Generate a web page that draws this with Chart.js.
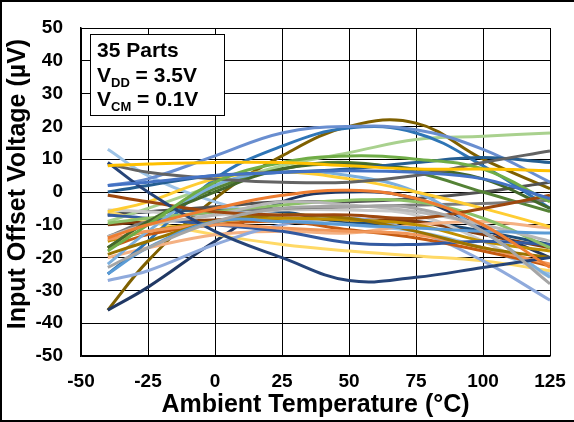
<!DOCTYPE html>
<html>
<head>
<meta charset="utf-8">
<script src="https://cdn.jsdelivr.net/npm/chart.js@4.4.1/dist/chart.umd.min.js"></script>
<style>
  html, body { margin: 0; padding: 0; background: #fff; }
  #wrap { position: relative; width: 574px; height: 422px; }
</style>
</head>
<body>
<div id="wrap"><canvas id="grafico" width="574" height="422"></canvas></div>
<script>
// temperaturas medidas (°C)
const temps = [-40, -25, 0, 25, 50, 75, 100, 125];

// offset de cada parte (uV), uma linha por parte
const parts = [
  [2, 3, 5, 6, 6.5, 6, 4, -2],
  [-14, -10, -5, -1, 0.5, -2, -10, -23],
  [-23, -17, -9, -5, -4.5, -5, -12, -28],
  [8, 8.5, 9, 9, 8, 7, 7, 6.5],
  [-25, -17, -9, -9, -10, -11, -12, -12.5],
  [-18, -10, 3, 9, 11, 10, 7, -3],
  [9, 0, -12, -20, -27, -26, -23, -20],
  [-1, -3, -6, -7, -7, -8, -5, -1],
  [8.5, 6, 4, 3, 3, 5, 9, 12.5],
  [-19, -15, -9, -7, -8, -12, -17, -20],
  [0, 2, 5, 6, 7, 9, 10.5, 9],
  [-17, -9, 0, 7, 8.5, 7, 4, -5],
  [2, 4, 11, 18, 20, 19, 13, 3],
  [-14.5, -12, -10, -11, -12, -13, -17, -22],
  [-13.6, -10, -7, -3, -4, -6, -10, -15],
  [-6, -3, 4, 6, 4, 0, -5, -10.6],
  [-22, -12, 2, 6, 5, 0, -12, -26],
  [-9.5, -8, -6, -4, -2.5, -3, -8, -17],
  [-7, -8, -10, -12, -15.5, -16, -15, -16],
  [-17, -13, -10, -9, -11.5, -14, -18, -22.5],
  [-13.6, -9, -6, -5, -4.5, -4, -3.5, -2.5],
  [-15, -12, -9, -8, -8.5, -10, -15, -18],
  [-25, -15, 4, 14, 19.5, 18, 8, -5],
  [-17, -9, 1, 7, 9, 6, 0, -6],
  [-27, -24, -16, -10, -8, -12, -21, -33],
  [-20, -17, -13, -12, -12.5, -10, -9, -11],
  [-5.5, -6, -7, -5.5, -5.5, -7, -15, -26],
  [-6, -9, -13, -16, -18, -19.5, -21, -24],
  [13, 5, -3, -8, -10, -12, -17, -25],
  [-9, -5, 2, 8, 12, 16, 17, 18],
  [-36, -29, -15, -3, 0, -2, -11, -20],
  [-10, -9, -8.5, -8, -8.5, -9, -13, -17],
  [-7, -6, -4.5, -3, -3, -2, 0, 3],
  [-7, -6, -5.5, -6, -9.5, -9, -12, -16],
  [-36, -21, -2, 11, 20, 21, 10, 1]
];

const cores = [
  '#4472C4', '#ED7D31', '#A5A5A5', '#FFC000', '#5B9BD5', '#70AD47',
  '#264478', '#9E480E', '#636363', '#997300', '#255E91', '#43682B',
  '#698ED0', '#F1975A', '#B7B7B7', '#FFCD33', '#7CAFDD', '#8CC168',
  '#335AA1', '#C55A11', '#7B7B7B', '#BF9000', '#2E75B6', '#548235',
  '#8FAADC', '#F4B183', '#C9C9C9', '#FFD966', '#9DC3E6', '#A9D18E',
  '#203864', '#843C0C', '#525252', '#1F4E79', '#7F6000'
];

const xTicks = [-50, -25, 0, 25, 50, 75, 100, 125];
const yTicks = [-50, -40, -30, -20, -10, 0, 10, 20, 30, 40, 50];

const fonte = '"Liberation Sans", Arial, sans-serif';

// montando os datasets
const datasets = parts.map((valores, i) => ({
  label: 'Parte ' + (i + 1),
  data: valores.map((v, j) => ({ x: temps[j], y: v })),
  borderColor: cores[i],
  backgroundColor: cores[i],
  borderWidth: 3,
  pointRadius: 0,
  tension: 0.4,
  fill: false
}));

// caixa de texto, titulos e moldura
const extras = {
  id: 'extras',
  afterDraw(chart) {
    const ctx = chart.ctx;
    const a = chart.chartArea;
    ctx.save();

    // caixa de legenda
    const bx = a.left + 9, by = a.top + 6, bw = 134, bh = 81;
    ctx.fillStyle = '#fff';
    ctx.fillRect(bx, by, bw, bh);
    ctx.strokeStyle = '#000';
    ctx.lineWidth = 1;
    ctx.strokeRect(bx + 0.5, by + 0.5, bw, bh);

    ctx.fillStyle = '#000';
    ctx.textBaseline = 'alphabetic';
    ctx.textAlign = 'left';
    const tx = bx + 7;
    ctx.font = 'bold 21px ' + fonte;
    ctx.fillText('35 Parts', tx, by + 23);

    const linhaSub = (principal, sub, resto, y) => {
      ctx.font = 'bold 21px ' + fonte;
      ctx.fillText(principal, tx, y);
      let x = tx + ctx.measureText(principal).width;
      ctx.font = 'bold 13px ' + fonte;
      ctx.fillText(sub, x, y + 5);
      x += ctx.measureText(sub).width;
      ctx.font = 'bold 21px ' + fonte;
      ctx.fillText(resto, x, y);
    };
    linhaSub('V', 'DD', ' = 3.5V', by + 48);
    linhaSub('V', 'CM', ' = 0.1V', by + 72);

    // titulo do eixo x
    ctx.font = 'bold 25px ' + fonte;
    ctx.textAlign = 'center';
    ctx.textBaseline = 'middle';
    ctx.fillText('Ambient Temperature (°C)', (a.left + a.right) / 2, 405);

    // titulo do eixo y
    ctx.translate(18, 184);
    ctx.rotate(-Math.PI / 2);
    ctx.fillText('Input Offset Voltage (µV)', 0, 0);
    ctx.restore();

    // moldura da figura
    ctx.save();
    ctx.strokeStyle = '#000';
    ctx.lineWidth = 2;
    ctx.beginPath();
    ctx.moveTo(1, 421);
    ctx.lineTo(1, 1);
    ctx.lineTo(574, 1);
    ctx.moveTo(0, 421);
    ctx.lineTo(574, 421);
    ctx.stroke();
    ctx.restore();
  }
};

const ctx = document.getElementById('grafico').getContext('2d');
new Chart(ctx, {
  type: 'line',
  data: { datasets: datasets },
  options: {
    responsive: false,
    animation: false,
    layout: { padding: { top: 28, right: 24, bottom: 0, left: 0 } },
    plugins: {
      legend: { display: false },
      tooltip: { enabled: false }
    },
    scales: {
      x: {
        type: 'linear',
        min: -50,
        max: 125,
        afterBuildTicks: (s) => { s.ticks = xTicks.map(v => ({ value: v })); },
        afterFit: (s) => { s.height = 66; s.paddingLeft = 0; s.paddingRight = 0; },
        grid: { color: '#000', lineWidth: 1, drawTicks: false },
        border: { color: '#000', width: 1.5 },
        ticks: {
          padding: 14,
          color: '#000',
          font: { family: fonte, size: 19, weight: 'bold' }
        }
      },
      y: {
        min: -50,
        max: 50,
        afterBuildTicks: (s) => { s.ticks = yTicks.map(v => ({ value: v })); },
        afterFit: (s) => { s.width = 81; s.paddingTop = 0; s.paddingBottom = 0; },
        grid: { color: '#000', lineWidth: 1, drawTicks: false },
        border: { color: '#000', width: 1.5 },
        ticks: {
          padding: 18,
          color: '#000',
          font: { family: fonte, size: 19, weight: 'bold' }
        }
      }
    }
  },
  plugins: [extras]
});
</script>
</body>
</html>
